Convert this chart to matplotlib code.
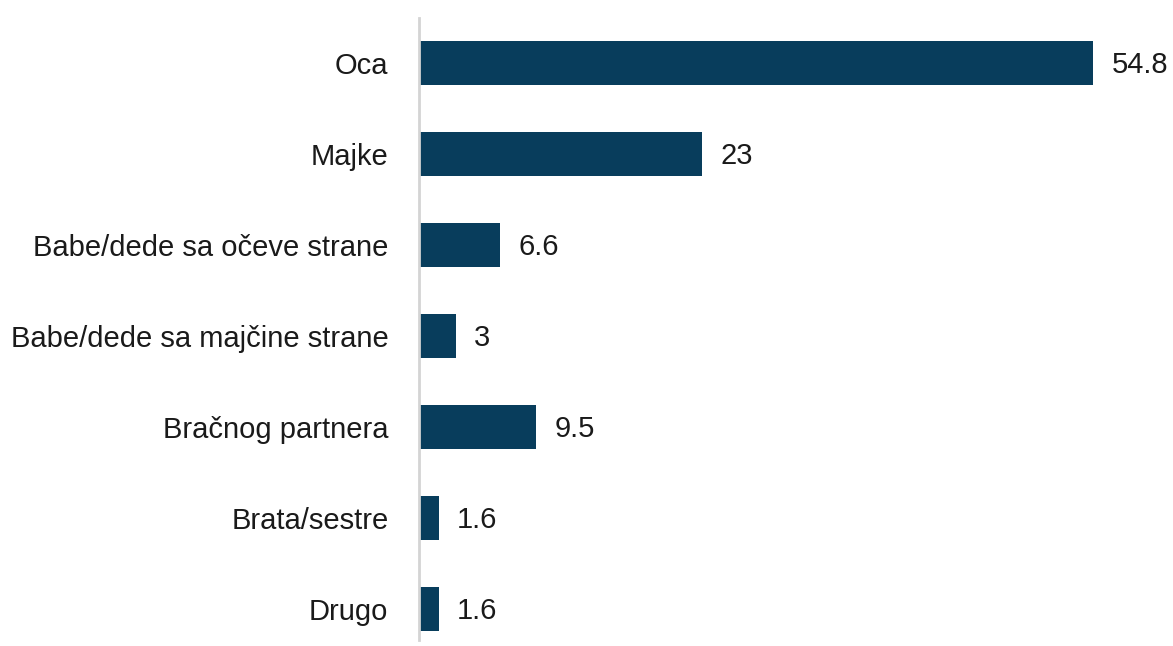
import matplotlib.pyplot as plt

categories = ['Oca', 'Majke', 'Babe/dede sa očeve strane', 'Babe/dede sa majčine strane',
              'Bračnog partnera', 'Brata/sestre', 'Drugo']
values = [54.8, 23, 6.6, 3, 9.5, 1.6, 1.6]
value_labels = ['54.8', '23', '6.6', '3', '9.5', '1.6', '1.6']

plt.rcParams['font.family'] = ['Liberation Sans', 'DejaVu Sans']

fig = plt.figure(figsize=(11.73, 6.46), dpi=100)
ax = fig.add_axes([419 / 1173, 6 / 646, (1173 - 419) / 1173, 622 / 646])

ax.barh(range(len(categories)), values, height=0.48, color='#083d5c')
for i, (v, lab) in enumerate(zip(values, value_labels)):
    ax.text(v + 1.5, i + 0.02, lab, va='center', ha='left', fontsize=21, color='#1a1a1a')

ax.set_xlim(0, 61.3)
ax.set_ylim(6.34, -0.495)
ax.set_yticks(range(len(categories)))
ax.set_yticklabels(categories, fontsize=21, color='#1a1a1a')
ax.tick_params(axis='y', length=0, pad=22)
ax.set_xticks([])
for s in ['top', 'right', 'bottom']:
    ax.spines[s].set_visible(False)
ax.spines['left'].set_color('#d4d4d4')
ax.spines['left'].set_linewidth(2)

fig.savefig('out.png', dpi=100)
